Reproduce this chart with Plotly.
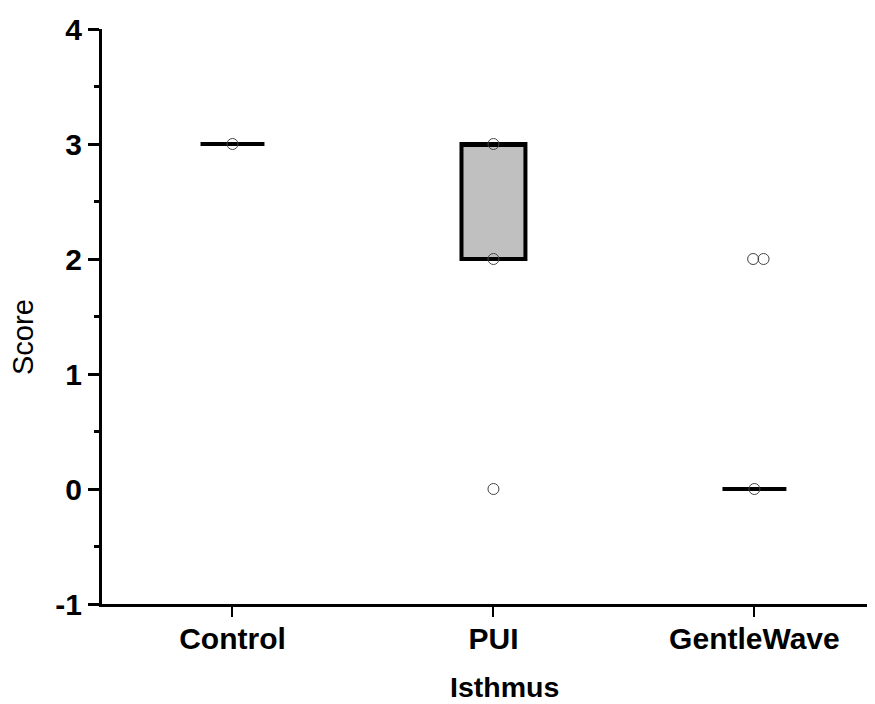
import plotly.graph_objects as go

categories = ["Control", "PUI", "GentleWave"]
cat_pos = [0, 1, 2]

# box statistics
box_q1 = [3, 2, 0]
box_median = [3, 3, 0]
box_q3 = [3, 3, 0]
box_lower = [3, 2, 0]
box_upper = [3, 3, 0]

# individual scores
control_scores = [3]
pui_scores = [3, 2, 0]
gw_scores = [2, 2, 0]
gw_offsets = [-0.005, 0.035, 0.0]

y_ticks = [-1, 0, 1, 2, 3, 4]
y_ticktext = ["-1", "0", "1", "2", "3", "4"]

# page has an 8px body margin: work in page pixels, convert to figure pixels
OFF = 8
W, H = 875 - OFF, 704 - OFF
L, R, T, B = 102 - OFF, 875 - OFF, 29 - OFF, 604 - OFF


def px_x(px):
    return (px - OFF - L) / (R - L)


def px_y(py):
    return (B - (py - OFF)) / (B - T)


fig = go.Figure()
fig.add_trace(go.Box(
    x=cat_pos, q1=box_q1, median=box_median, q3=box_q3,
    lowerfence=box_lower, upperfence=box_upper,
    width=0.245, fillcolor="#c0c0c0",
    line=dict(color="black", width=4),
    boxpoints=False, showlegend=False, hoverinfo="skip",
))

pts_x = ([cat_pos[0]] * len(control_scores)
         + [cat_pos[1]] * len(pui_scores)
         + [cat_pos[2] + o for o in gw_offsets])
pts_y = control_scores + pui_scores + gw_scores
fig.add_trace(go.Scatter(
    x=pts_x, y=pts_y, mode="markers",
    marker=dict(symbol="circle-open", size=11, color="#444444", line=dict(width=1)),
    showlegend=False,
))

fig.update_layout(
    width=W, height=H,
    margin=dict(l=L, r=W - R, t=T, b=H - B),
    paper_bgcolor="white", plot_bgcolor="white",
    font=dict(family="Liberation Sans, Arial", color="black"),
    xaxis=dict(
        range=[-0.5, 2.462], tickvals=cat_pos, ticktext=categories,
        showline=True, linecolor="black", linewidth=3,
        ticks="outside", ticklen=10, tickwidth=2, tickcolor="black",
        tickfont=dict(size=30, family="Liberation Sans, Arial", weight="bold"),
        showgrid=False, zeroline=False, ticklabelstandoff=-4, automargin=False,
    ),
    yaxis=dict(
        range=[-1, 4], tickvals=y_ticks, ticktext=y_ticktext,
        showline=True, linecolor="black", linewidth=3,
        ticks="outside", ticklen=11, tickwidth=3, tickcolor="black",
        tickfont=dict(size=30, family="Liberation Sans, Arial", weight="bold"),
        showgrid=False, zeroline=False, ticklabelstandoff=0, automargin=False,
        minor=dict(dtick=0.5, ticks="outside", ticklen=5, tickwidth=3, tickcolor="black", showgrid=False),
    ),
    annotations=[
        dict(text="<b>Isthmus</b>", x=px_x(505), y=px_y(687),
             xref="paper", yref="paper", showarrow=False, font=dict(size=28.5),
             xanchor="center", yanchor="middle"),
        dict(text="Score", x=px_x(23), y=px_y(337),
             xref="paper", yref="paper", showarrow=False, font=dict(size=29),
             textangle=-90, xanchor="center", yanchor="middle"),
    ],
)
fig.write_html("out.html")
